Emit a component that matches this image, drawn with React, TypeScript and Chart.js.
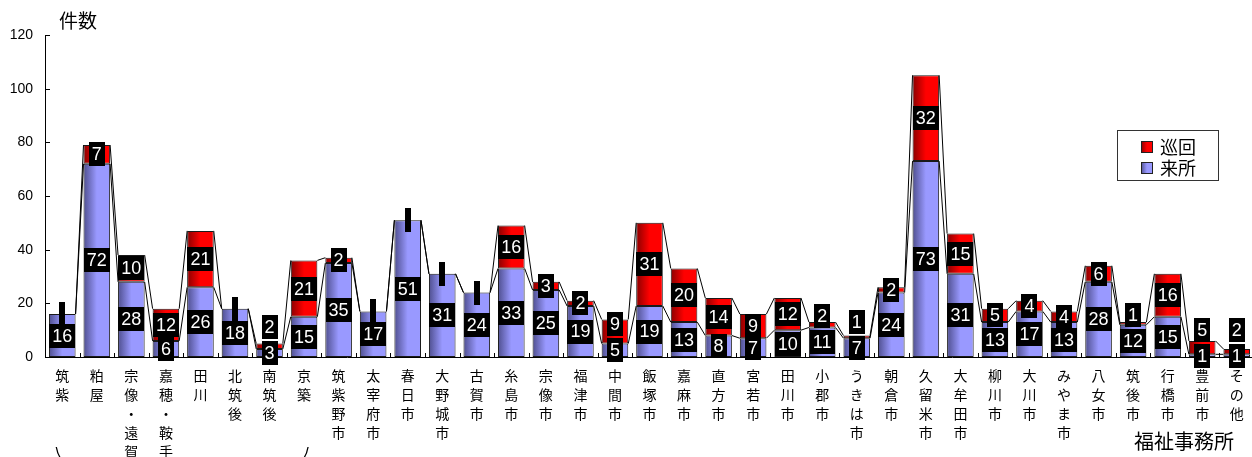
import React, { useEffect, useRef } from "react";
import { Chart, registerables } from "chart.js";

Chart.register(...registerables);

const categories = [
  "筑紫", "粕屋", "宗像・遠賀", "嘉穂・鞍手", "田川", "北筑後", "南筑後", "京築",
  "筑紫野市", "太宰府市", "春日市", "大野城市", "古賀市", "糸島市", "宗像市", "福津市",
  "中間市", "飯塚市", "嘉麻市", "直方市", "宮若市", "田川市", "小郡市", "うきは市",
  "朝倉市", "久留米市", "大牟田市", "柳川市", "大川市", "みやま市", "八女市", "筑後市",
  "行橋市", "豊前市", "その他",
];

// 来所 (visits to office)
const visitValues = [
  16, 72, 28, 6, 26, 18, 3, 15,
  35, 17, 51, 31, 24, 33, 25, 19,
  5, 19, 13, 8, 7, 10, 11, 7,
  24, 73, 31, 13, 17, 13, 28, 12,
  15, 1, 1,
];

// 巡回 (tours)
const tourValues = [
  0, 7, 10, 12, 21, 0, 2, 21,
  2, 0, 0, 0, 0, 16, 3, 2,
  9, 31, 20, 14, 9, 12, 2, 1,
  2, 32, 15, 5, 4, 4, 6, 1,
  16, 5, 2,
];

const yMin = 0;
const yMax = 120;
const yStep = 20;

const seriesNames = ["来所", "巡回"];
const axisTitle = "件数";
const xAxisTitle = "福祉事務所";

const BAR_FRACTION = 0.77;
const BLUE_DARK = "#4f4f8f";
const BLUE_LIGHT = "#9999ff";
const RED_DARK = "#8a0000";
const RED_LIGHT = "#ff0000";

const gradFill = (dark: string, light: string) => (c: any) => {
  const chart = c.chart;
  const xs = chart.scales && chart.scales.x;
  if (!xs || c.dataIndex === undefined || !isFinite(xs.width) || xs.width <= 0) return light;
  const cx = xs.getPixelForValue(c.dataIndex);
  const w = (xs.width / categories.length) * BAR_FRACTION;
  const g = chart.ctx.createLinearGradient(cx - w / 2, 0, cx + w / 2, 0);
  g.addColorStop(0, dark);
  g.addColorStop(0.5, light);
  g.addColorStop(1, light);
  return g;
};

const CJK = '"Noto Sans CJK JP", "Noto Sans", sans-serif';
const LABEL_FONT = '18px "Liberation Sans Narrow", "Liberation Sans", Arial, sans-serif';

function drawBox(ctx: CanvasRenderingContext2D, text: string, cx: number, cy: number) {
  ctx.font = LABEL_FONT;
  const tw = text ? ctx.measureText(text).width : 0;
  const w = tw + 6;
  const h = 24;
  ctx.fillStyle = "#000";
  ctx.fillRect(Math.round(cx - w / 2), Math.round(cy - h / 2), Math.round(w), h);
  if (text) {
    ctx.fillStyle = "#fff";
    ctx.textAlign = "center";
    ctx.textBaseline = "middle";
    ctx.fillText(text, cx, cy + 1);
  }
}

const decorPlugin = {
  id: "decor",
  beforeDatasetsDraw(chart: any) {
    const ctx = chart.ctx as CanvasRenderingContext2D;
    ctx.save();
    ctx.strokeStyle = "#000";
    ctx.lineWidth = 1;
    for (let d = 0; d < chart.data.datasets.length; d++) {
      const meta = chart.getDatasetMeta(d);
      for (let i = 0; i < meta.data.length - 1; i++) {
        const a = meta.data[i].getProps(["x", "y", "width"], true);
        const b = meta.data[i + 1].getProps(["x", "y", "width"], true);
        ctx.beginPath();
        ctx.moveTo(a.x + a.width / 2, a.y);
        ctx.lineTo(b.x - b.width / 2, b.y);
        ctx.stroke();
      }
    }
    ctx.restore();
  },
  afterDatasetsDraw(chart: any) {
    const ctx = chart.ctx as CanvasRenderingContext2D;
    ctx.save();
    const mb = chart.getDatasetMeta(0);
    const mr = chart.getDatasetMeta(1);
    for (let i = 0; i < categories.length; i++) {
      const b = mb.data[i].getProps(["x", "y", "base"], true);
      const r = mr.data[i].getProps(["x", "y", "base"], true);
      const cyB = (b.y + b.base) / 2;
      let cyR = (r.y + r.base) / 2;
      if (cyB - cyR < 21) cyR = cyB - 26;
      drawBox(ctx, String(visitValues[i]), b.x, cyB);
      drawBox(ctx, tourValues[i] ? String(tourValues[i]) : "", r.x, cyR);
    }
    ctx.restore();
  },
  afterDraw(chart: any) {
    const ctx = chart.ctx as CanvasRenderingContext2D;
    const area = chart.chartArea;
    const xs = chart.scales.x;
    const ys = chart.scales.y;
    ctx.save();
    ctx.strokeStyle = "#000";
    ctx.lineWidth = 1;
    // inside tick marks on y
    for (const t of ys.ticks) {
      const py = Math.round(ys.getPixelForValue(t.value)) + 0.5;
      ctx.beginPath();
      ctx.moveTo(area.left, py);
      ctx.lineTo(area.left + 5, py);
      ctx.stroke();
    }
    // inside tick marks on x at category boundaries
    const cw = xs.width / categories.length;
    for (let i = 1; i < categories.length; i++) {
      const px = Math.round(xs.getPixelForValue(i) - cw / 2) + 0.5;
      ctx.beginPath();
      ctx.moveTo(px, area.bottom);
      ctx.lineTo(px, area.bottom - 4);
      ctx.stroke();
    }
    // title
    ctx.fillStyle = "#000";
    ctx.font = "19px " + CJK;
    ctx.textAlign = "left";
    ctx.textBaseline = "middle";
    ctx.fillText(axisTitle, area.left + 14, 21);
    // x axis title
    ctx.font = "20px " + CJK;
    ctx.textAlign = "right";
    ctx.fillText(xAxisTitle, area.right - 20, 441);
    // bracket ends
    const l = xs.getPixelForValue(0) - 6;
    const rr = xs.getPixelForValue(7) + 4;
    ctx.lineWidth = 1.3;
    ctx.beginPath();
    ctx.moveTo(l, 447);
    ctx.quadraticCurveTo(l + 1, 453, l + 4, 458);
    ctx.moveTo(rr, 447);
    ctx.quadraticCurveTo(rr - 1, 453, rr - 4, 458);
    ctx.stroke();
    // legend
    const lx = area.right - 137;
    const ly = 130;
    ctx.lineWidth = 1;
    ctx.fillStyle = "#fff";
    ctx.fillRect(lx, ly, 101, 50);
    ctx.strokeStyle = "#333";
    ctx.strokeRect(lx + 0.5, ly + 0.5, 101, 50);
    const items = [
      { name: seriesNames[1], dark: RED_DARK, light: RED_LIGHT, y: ly + 11 },
      { name: seriesNames[0], dark: BLUE_DARK, light: BLUE_LIGHT, y: ly + 32 },
    ];
    for (const it of items) {
      const g = ctx.createLinearGradient(lx + 24, 0, lx + 36, 0);
      g.addColorStop(0, it.dark);
      g.addColorStop(0.5, it.light);
      g.addColorStop(1, it.light);
      ctx.fillStyle = g;
      ctx.fillRect(lx + 24, it.y, 12, 12);
      ctx.strokeStyle = "#222";
      ctx.strokeRect(lx + 24.5, it.y + 0.5, 11, 11);
      ctx.fillStyle = "#000";
      ctx.font = "18px " + CJK;
      ctx.textAlign = "left";
      ctx.textBaseline = "middle";
      ctx.fillText(it.name, lx + 43, it.y + 6);
    }
    ctx.restore();
  },
};

export default function App() {
  const ref = useRef<HTMLCanvasElement | null>(null);
  useEffect(() => {
    if (!ref.current) return;
    const labels = categories.map((s) => Array.from(s));
    const common = {
      stack: "s",
      borderColor: "#1a1a1a",
      borderWidth: (c: any) => (c.raw === 0 ? 0 : 1),
      borderSkipped: false,
      categoryPercentage: 1,
      barPercentage: BAR_FRACTION,
    };
    const chart = new Chart(ref.current, {
      type: "bar",
      data: {
        labels,
        datasets: [
          { ...common, label: seriesNames[0], data: visitValues, backgroundColor: gradFill(BLUE_DARK, BLUE_LIGHT) } as any,
          { ...common, label: seriesNames[1], data: tourValues, backgroundColor: gradFill(RED_DARK, RED_LIGHT) } as any,
        ],
      },
      options: {
        animation: false,
        responsive: false,
        maintainAspectRatio: false,
        layout: { padding: { top: 35, right: 2, left: 0, bottom: 0 } },
        plugins: { legend: { display: false }, tooltip: { enabled: false }, title: { display: false } },
        scales: {
          x: {
            stacked: true,
            offset: true,
            grid: { display: false, drawTicks: false },
            border: { display: true, color: "#000", width: 1 },
            ticks: {
              color: "#000",
              autoSkip: false,
              maxRotation: 0,
              minRotation: 0,
              padding: 9,
              font: { family: CJK, size: 14, lineHeight: 19 / 14 },
            },
            afterFit: (s: any) => {
              s.height = 113;
            },
          },
          y: {
            stacked: true,
            min: yMin,
            max: yMax,
            grid: { display: false, drawTicks: false },
            border: { display: true, color: "#000", width: 1 },
            ticks: {
              stepSize: yStep,
              color: "#000",
              padding: 12,
              font: { family: '"Liberation Sans", Arial, sans-serif', size: 14 },
            },
            afterFit: (s: any) => {
              s.width = 45;
            },
          },
        },
      } as any,
      plugins: [decorPlugin],
    });
    return () => chart.destroy();
  }, []);
  return (
    <div style={{ position: "absolute", left: 0, top: 0, width: 1252, height: 457, overflow: "hidden", background: "#fff" }}>
      <canvas ref={ref} width={1256} height={470} style={{ display: "block", width: 1256, height: 470 }} />
    </div>
  );
}
